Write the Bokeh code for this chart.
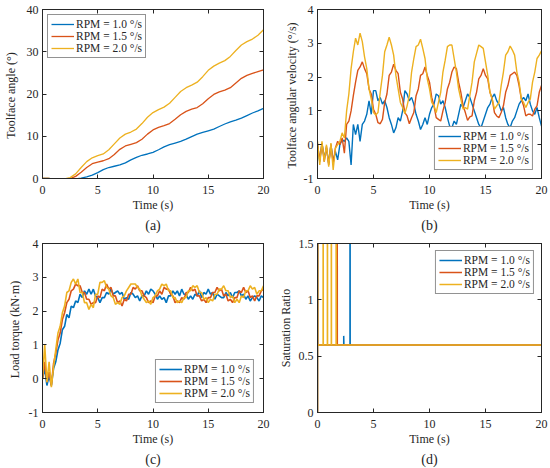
from bokeh.plotting import figure
from bokeh.models import Range1d, LinearAxis, FixedTicker, Title, Legend, LegendItem
from bokeh.layouts import gridplot
from bokeh.embed import file_html
from bokeh.resources import INLINE

# ---------------- data ----------------
labels = ["RPM = 1.0 °/s", "RPM = 1.5 °/s", "RPM = 2.0 °/s"]
x_ticks = [0, 5, 10, 15, 20]

# (a) toolface angle, sampled every 0.5 s
ang_step = 0.5
ang_10 = [0.0, 0.0, -0.1, -0.1, -0.1, -0.1, -0.1, 0.1, 0.4, 0.8, 1.4, 2.1, 2.6, 2.9, 3.2, 3.7,
          4.4, 5.0, 5.5, 5.8, 6.2, 6.8, 7.5, 8.0, 8.4, 8.8, 9.3, 9.9, 10.5, 10.9, 11.3, 11.7,
          12.3, 12.9, 13.4, 13.8, 14.3, 14.9, 15.5, 16.0, 16.6]
ang_15 = [0.0, 0.0, -0.1, -0.1, -0.1, -0.05, 0.5, 1.5, 2.6, 3.5, 3.9, 4.2, 4.7, 5.7, 6.9, 7.7,
          8.1, 8.5, 9.3, 10.5, 11.5, 12.1, 12.5, 13.0, 14.0, 15.1, 15.9, 16.4, 16.8, 17.7, 18.9,
          19.9, 20.5, 20.9, 21.5, 22.6, 23.7, 24.4, 24.9, 25.3, 25.7]
ang_20 = [0.0, 0.0, -0.1, -0.1, -0.1, 0.2, 1.1, 2.6, 4.0, 4.9, 5.4, 5.8, 6.8, 8.2, 9.6, 10.5,
          11.0, 11.7, 13.0, 14.5, 15.6, 16.3, 16.9, 17.8, 19.2, 20.6, 21.5, 22.1, 22.8, 24.1,
          25.6, 26.6, 27.3, 27.9, 28.9, 30.3, 31.6, 32.4, 33.0, 33.9, 35.2]

# (b) toolface angular velocity, sampled every 0.2 s
fine_step = 0.2
vel_10 = [0.0, -0.5, 0.05, -0.4, -0.1, -0.55, 0.0, -0.5, -0.2, -0.45, 0.0, 0.15, 0.1, 0.2, 0.1,
          -0.6, 0.6, 0.3, 0.6, 0.1, 0.6, 0.7, 0.9, 1.3, 0.9, 1.6, 1.6, 1.3, 1.4, 1.2, 1.3, 1.1,
          0.8, 0.6, 0.35, 0.5, 0.8, 0.7, 1.0, 1.6, 1.5, 1.3, 1.4, 1.2, 0.9, 0.7, 0.45, 0.6, 0.8,
          0.6, 0.9, 1.1, 1.2, 1.5, 1.45, 1.2, 1.3, 1.1, 0.8, 0.55, 0.5, 0.7, 0.6, 0.9, 1.2, 1.1,
          1.3, 1.5, 1.4, 1.2, 1.0, 0.8, 0.6, 0.5, 0.7, 0.9, 1.1, 1.2, 1.4, 1.5, 1.3, 1.2, 1.0,
          1.1, 0.8, 0.6, 0.5, 0.7, 0.8, 1.0, 1.2, 1.3, 1.4, 1.3, 1.5, 1.2, 1.0, 0.9, 1.1, 0.8, 0.55]
vel_15 = [0.0, -0.45, 0.05, -0.5, -0.05, -0.6, 0.0, -0.55, -0.1, 0.1, 0.0, 0.2, -0.25, 0.6, 0.7,
          1.0, 1.45, 1.85, 2.2, 2.3, 2.45, 2.25, 2.1, 1.65, 1.5, 1.05, 0.9, 0.65, 0.62, 0.75, 1.25,
          1.5, 2.05, 2.15, 2.38, 2.2, 2.1, 1.55, 1.35, 0.95, 0.85, 0.62, 0.8, 0.95, 1.45, 1.65,
          2.05, 2.1, 2.3, 2.05, 1.85, 1.4, 1.15, 0.8, 0.75, 0.7, 1.0, 1.25, 1.65, 1.85, 2.15, 2.3,
          2.25, 1.85, 1.55, 1.15, 0.95, 0.72, 0.82, 0.85, 1.3, 1.55, 1.95, 2.05, 2.25, 2.05, 1.95,
          1.55, 1.35, 0.95, 0.85, 0.8, 0.95, 1.15, 1.55, 1.75, 2.05, 2.1, 2.15, 2.05, 1.75, 1.35,
          1.15, 0.85, 0.9, 0.9, 0.85, 1.05, 1.15, 1.55, 1.75]
vel_20 = [0.1, -0.6, 0.1, -0.5, 0.0, -0.65, 0.05, -0.75, -0.1, 0.0, 0.1, 0.35, 0.2, 1.0, 1.5,
          2.25, 2.75, 3.15, 2.95, 3.3, 3.05, 2.6, 2.25, 1.65, 1.35, 0.95, 0.88, 0.95, 1.55, 2.05,
          2.75, 2.95, 3.18, 2.95, 2.65, 2.05, 1.65, 1.25, 1.1, 0.92, 1.15, 1.45, 2.15, 2.55, 2.9,
          2.95, 3.12, 2.85, 2.55, 1.95, 1.65, 1.25, 1.15, 0.95, 1.25, 1.55, 2.15, 2.5, 2.9, 2.95,
          2.95, 2.55, 2.15, 1.65, 1.35, 1.05, 1.1, 1.05, 1.45, 1.85, 2.45, 2.7, 2.95, 2.9, 2.85,
          2.45, 2.05, 1.55, 1.35, 1.05, 1.15, 1.25, 1.75, 2.15, 2.65, 2.75, 2.92, 2.8, 2.65, 2.15,
          1.85, 1.35, 1.25, 1.1, 1.25, 1.35, 1.85, 2.15, 2.55, 2.65, 2.78]

# (c) load torque, sampled every 0.2 s
trq_10 = [0.0, 0.3, -0.2, 0.1, -0.2, 0.3, 0.5, 0.85, 1.05, 1.45, 1.55, 1.9, 1.8, 2.15, 2.1, 2.3,
          2.25, 2.5, 2.4, 2.6, 2.5, 2.65, 2.5, 2.65, 2.45, 2.4, 2.25, 2.4, 2.4, 2.55, 2.5, 2.65,
          2.5, 2.55, 2.6, 2.5, 2.55, 2.35, 2.4, 2.35, 2.55, 2.5, 2.4, 2.45, 2.3, 2.45, 2.45, 2.6,
          2.5, 2.65, 2.6, 2.5, 2.35, 2.45, 2.35, 2.4, 2.25, 2.45, 2.45, 2.6, 2.5, 2.6, 2.45, 2.65,
          2.5, 2.5, 2.35, 2.45, 2.35, 2.5, 2.45, 2.6, 2.4, 2.55, 2.5, 2.65, 2.5, 2.55, 2.35, 2.5,
          2.45, 2.4, 2.4, 2.55, 2.45, 2.55, 2.4, 2.55, 2.55, 2.6, 2.45, 2.5, 2.35, 2.45, 2.3, 2.4,
          2.45, 2.4, 2.3, 2.45, 2.4]
trq_15 = [0.0, 0.5, -0.1, 0.2, -0.2, 0.45, 0.75, 1.15, 1.35, 1.75, 1.95, 2.25, 2.35, 2.6, 2.65,
          2.8, 2.75, 2.75, 2.55, 2.55, 2.35, 2.35, 2.2, 2.25, 2.25, 2.45, 2.4, 2.65, 2.6, 2.8,
          2.65, 2.7, 2.45, 2.45, 2.25, 2.3, 2.15, 2.35, 2.3, 2.5, 2.5, 2.7, 2.65, 2.75, 2.6, 2.6,
          2.45, 2.4, 2.25, 2.3, 2.25, 2.45, 2.45, 2.6, 2.5, 2.7, 2.65, 2.65, 2.5, 2.45, 2.25, 2.3,
          2.25, 2.4, 2.35, 2.55, 2.55, 2.7, 2.6, 2.65, 2.45, 2.45, 2.3, 2.35, 2.25, 2.4, 2.4,
          2.55, 2.55, 2.7, 2.6, 2.65, 2.45, 2.5, 2.3, 2.35, 2.25, 2.4, 2.4, 2.6, 2.55, 2.7, 2.55,
          2.6, 2.4, 2.45, 2.3, 2.45, 2.45, 2.6, 2.65]
trq_20 = [0.0, 1.0, -0.1, 0.5, -0.25, 0.35, 0.85, 1.35, 1.55, 1.95, 2.15, 2.55, 2.6, 2.85, 2.95,
          2.8, 2.95, 2.55, 2.55, 2.25, 2.25, 2.05, 2.2, 2.1, 2.5, 2.5, 2.85, 2.85, 2.9, 2.7, 2.65,
          2.45, 2.4, 2.2, 2.25, 2.2, 2.4, 2.45, 2.6, 2.7, 2.8, 2.8, 2.8, 2.7, 2.65, 2.45, 2.35,
          2.25, 2.3, 2.2, 2.4, 2.45, 2.6, 2.65, 2.8, 2.75, 2.8, 2.6, 2.6, 2.4, 2.4, 2.25, 2.3,
          2.25, 2.4, 2.4, 2.6, 2.6, 2.75, 2.7, 2.75, 2.55, 2.55, 2.35, 2.4, 2.25, 2.35, 2.3, 2.5,
          2.5, 2.65, 2.65, 2.75, 2.6, 2.6, 2.4, 2.45, 2.25, 2.35, 2.25, 2.45, 2.4, 2.6, 2.6, 2.75,
          2.65, 2.7, 2.5, 2.6, 2.6, 2.75]

# (d) saturation ratio (time, value) breakpoints
sat_t_10 = [0, 0, 0.02, 2.34, 2.34, 2.36, 2.9, 2.9, 2.92, 20]
sat_v_10 = [0, 5, 0.6, 0.6, 0.68, 0.6, 0.6, 5, 0.6, 0.6]
sat_t_15 = [0, 0, 0.02, 1.75, 1.75, 1.77, 20]
sat_v_15 = [0, 5, 0.6, 0.6, 5, 0.6, 0.6]
sat_t_20 = [0, 0, 0.02, 0.5, 0.5, 0.52, 0.88, 0.88, 0.9, 1.23, 1.23, 1.25, 1.66, 1.66, 1.68, 20]
sat_v_20 = [0, 5, 0.6, 0.6, 5, 0.6, 0.6, 5, 0.6, 0.6, 5, 0.6, 0.6, 5, 0.6, 0.6]

# ---------------- styling ----------------
COLORS = ["#0072BD", "#D95319", "#EDB120"]
FONT = "Liberation Serif, Times New Roman, serif"
INK = "#262626"


def times(values, step):
    return [round(i * step, 2) for i in range(len(values))]


def make_fig(left, right, yr, yticks, ylabel, caption, ylab_standoff, overrides=None):
    p = figure(width=275, height=234, x_range=Range1d(0, 20), y_range=Range1d(*yr),
               output_backend="svg", toolbar_location=None,
               min_border_left=left, min_border_right=right,
               min_border_top=9, min_border_bottom=54)
    p.grid.visible = False
    p.outline_line_color = INK
    p.outline_line_width = 1
    p.background_fill_color = "white"
    p.border_fill_color = "white"
    # mirrored tick axes (MATLAB box), labels not drawn
    p.add_layout(LinearAxis(), "above")
    p.add_layout(LinearAxis(), "right")
    for ax in p.xaxis:
        ax.ticker = FixedTicker(ticks=x_ticks)
    for ax in p.yaxis:
        ax.ticker = FixedTicker(ticks=yticks)
        if overrides:
            ax.major_label_overrides = overrides
    for ax in p.axis:
        ax.major_tick_in = 4
        ax.major_tick_out = 0
        ax.minor_tick_line_color = None
        ax.axis_line_color = INK
        ax.major_tick_line_color = INK
        ax.major_label_text_font = FONT
        ax.major_label_text_font_size = "12px"
        ax.major_label_text_color = INK
        ax.axis_label_text_font = FONT
        ax.axis_label_text_font_size = "12px"
        ax.axis_label_text_font_style = "normal"
        ax.axis_label_text_color = INK
    for ax in (p.above[0], p.right[0]):
        ax.major_label_text_font_size = "1px"
        ax.major_label_text_color = None
        ax.major_label_standoff = 0
    p.below[0].major_label_standoff = 7
    p.below[0].axis_label = "Time (s)"
    p.below[0].axis_label_standoff = 1
    p.left[0].major_label_standoff = 4
    p.left[0].axis_label = ylabel
    p.left[0].axis_label_standoff = ylab_standoff
    t = Title(text=caption, align="center", text_font=FONT, text_font_size="14px",
              text_font_style="normal", text_color=INK, standoff=3)
    p.add_layout(t, "below")
    return p


def add_legend(p, renderers, location, margin):
    items = [LegendItem(label=l, renderers=[r]) for l, r in zip(labels, renderers)]
    lg = Legend(items=items, location=location, label_text_font=FONT,
                label_text_font_size="11.5px", label_text_color=INK,
                glyph_width=23, glyph_height=12, label_height=12, label_standoff=2,
                spacing=0, padding=3, margin=margin, border_line_color=INK,
                border_line_width=1, background_fill_color="white", background_fill_alpha=1)
    p.add_layout(lg)


# (a)
pa = make_fig(36, 12, (0, 40), [0, 10, 20, 30, 40], "Toolface angle  (°)", "(a)", 6)
ra = [pa.line(times(v, ang_step), v, line_color=c, line_width=1.3)
      for v, c in zip([ang_10, ang_15, ang_20], COLORS)]
add_legend(pa, ra, "top_left", 5)

# (b)
pb = make_fig(38, 9, (-1, 4), [-1, 0, 1, 2, 3, 4], "Toolface angular velocity  (°/s)", "(b)", 2,
              {-1: "-1", 0: "0", 1: "1", 2: "2", 3: "3", 4: "4"})
rb = [pb.line(times(v, fine_step), v, line_color=c, line_width=1.4)
      for v, c in zip([vel_10, vel_15, vel_20], COLORS)]
add_legend(pb, rb, "bottom_right", 8)

# (c)
pc = make_fig(36, 12, (-1, 4), [-1, 0, 1, 2, 3, 4], "Load torque  (kN·m)", "(c)", 4,
              {-1: "-1", 0: "0", 1: "1", 2: "2", 3: "3", 4: "4"})
rc = [pc.line(times(v, fine_step), v, line_color=c, line_width=1.6)
      for v, c in zip([trq_10, trq_15, trq_20], COLORS)]
add_legend(pc, rc, "bottom_right", 9)

# (d)
pd_ = make_fig(38, 9, (0, 1.5), [0, 0.5, 1, 1.5], "Saturation Ratio", "(d)", 3,
               {0: "0", 0.5: "0.5", 1: "1", 1.5: "1.5"})
rd = [pd_.line(t, v, line_color=c, line_width=1.5)
      for t, v, c in zip([sat_t_10, sat_t_15, sat_t_20], [sat_v_10, sat_v_15, sat_v_20], COLORS)]
add_legend(pd_, rd, "top_right", 7)

grid = gridplot([[pa, pb], [pc, pd_]], toolbar_location=None)

open("out.html", "w").write(file_html(grid, INLINE))
